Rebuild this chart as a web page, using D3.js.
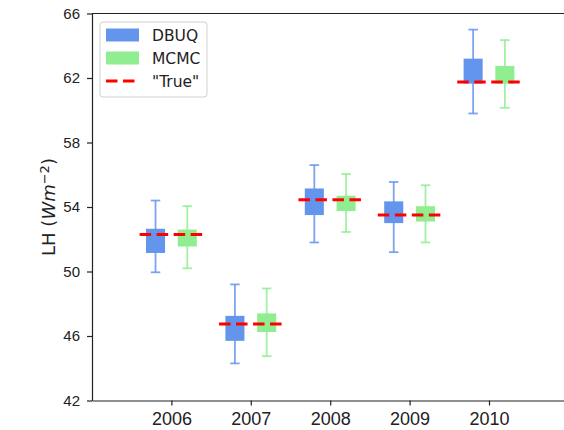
<!DOCTYPE html>
<html>
<head>
<meta charset="utf-8">
<script src="https://cdn.jsdelivr.net/npm/d3@7"></script>
<style>
  body { margin: 0; background: white; }
  svg { display: block; font-family: "DejaVu Sans", sans-serif; overflow: hidden; }
</style>
</head>
<body>
<script>
// Data
const years = [2006, 2007, 2008, 2009, 2010];

const dbuqLow  = [49.95, 44.3, 51.8, 51.2, 59.8];
const dbuqQ1   = [51.15, 45.7, 53.5, 53.0, 61.65];
const dbuqQ3   = [52.65, 47.25, 55.15, 54.35, 63.2];
const dbuqHigh = [54.4, 49.2, 56.6, 55.55, 65.0];

const mcmcLow  = [50.2, 44.75, 52.45, 51.8, 60.15];
const mcmcQ1   = [51.55, 46.25, 53.75, 53.1, 61.65];
const mcmcQ3   = [52.6, 47.4, 54.7, 54.05, 62.75];
const mcmcHigh = [54.05, 48.95, 56.05, 55.35, 64.35];

const truth = [52.3, 46.75, 54.45, 53.5, 61.75];

const yTicks = [42, 46, 50, 54, 58, 62, 66];

// Layout
const W = 564, H = 430;
const margin = { top: 13.5, left: 92, bottom: 29.5 };
const plotBottom = H - margin.bottom;

const svg = d3.select("body")
    .append("svg")
    .attr("width", W)
    .attr("height", H);

// Scales
const x = d3.scaleLinear()
    .domain([2005, 2011])
    .range([margin.left, margin.left + 6 * 79.4]);

const y = d3.scaleLinear()
    .domain([42, 66])
    .range([plotBottom, margin.top]);

const series = [
    { name: "DBUQ", color: "#6495ED", offset: -0.2, low: dbuqLow, q1: dbuqQ1, q3: dbuqQ3, high: dbuqHigh },
    { name: "MCMC", color: "#90EE90", offset: 0.2, low: mcmcLow, q1: mcmcQ1, q3: mcmcQ3, high: mcmcHigh }
];

const boxW = 0.24;
const capW = 0.12;

// Boxes and whiskers
series.forEach(s => {
    const g = svg.append("g");
    years.forEach((yr, i) => {
        const cx = x(yr + s.offset);
        // whisker
        g.append("line")
            .attr("x1", cx).attr("x2", cx)
            .attr("y1", y(s.low[i])).attr("y2", y(s.high[i]))
            .style("stroke", s.color)
            .style("stroke-opacity", 0.85)
            .style("stroke-width", 1.8);
        // caps
        [s.low[i], s.high[i]].forEach(v => {
            g.append("line")
                .attr("x1", x(yr + s.offset - capW / 2))
                .attr("x2", x(yr + s.offset + capW / 2))
                .attr("y1", y(v)).attr("y2", y(v))
                .style("stroke", s.color)
                .style("stroke-opacity", 0.85)
                .style("stroke-width", 1.8);
        });
        // box
        g.append("rect")
            .attr("x", x(yr + s.offset - boxW / 2))
            .attr("width", x(yr + s.offset + boxW / 2) - x(yr + s.offset - boxW / 2))
            .attr("y", y(s.q3[i]))
            .attr("height", y(s.q1[i]) - y(s.q3[i]))
            .style("fill", s.color);
    });
});

// "True" dashed lines
svg.append("g")
    .selectAll("line")
    .data(years)
    .enter()
    .append("line")
    .attr("x1", (d) => x(d - 0.4))
    .attr("x2", (d) => x(d + 0.4))
    .attr("y1", (d, i) => y(truth[i]))
    .attr("y2", (d, i) => y(truth[i]))
    .style("stroke", "#ff0000")
    .style("stroke-width", 3)
    .style("stroke-dasharray", "11.5,5.5");

// Axes
const xAxis = svg.append("g")
    .attr("transform", `translate(0,${plotBottom})`)
    .call(d3.axisBottom(x).tickValues(years).tickFormat(d3.format("d")).tickSize(5).tickPadding(7).tickSizeOuter(0));
xAxis.selectAll("text").style("font-size", "18px").style("fill", "#222");

const yAxis = svg.append("g")
    .attr("transform", `translate(${margin.left},0)`)
    .call(d3.axisLeft(y).tickValues(yTicks).tickSize(5).tickPadding(7).tickSizeOuter(0));
yAxis.selectAll("text").style("font-size", "15px").style("fill", "#222");

[xAxis, yAxis].forEach(a => {
    a.selectAll("line").style("stroke", "#222").style("stroke-width", 1.2);
    a.select(".domain").style("stroke", "#222").style("stroke-width", 1.2);
});

// top spine
svg.append("line")
    .attr("x1", margin.left).attr("x2", W)
    .attr("y1", margin.top).attr("y2", margin.top)
    .style("stroke", "#222")
    .style("stroke-width", 1.2);

// Y label
const yl = svg.append("text")
    .attr("transform", `translate(55,${(margin.top + plotBottom) / 2}) rotate(-90)`)
    .attr("text-anchor", "middle")
    .style("font-size", "18px")
    .style("fill", "#222");
yl.append("tspan").text("LH (");
yl.append("tspan").style("font-style", "italic").text("Wm");
yl.append("tspan").attr("dy", "-0.45em").style("font-size", "13px").text("\u22122");
yl.append("tspan").attr("dy", "0.35em").text(")");

// Legend
const legend = svg.append("g");
legend.append("rect")
    .attr("x", 100).attr("y", 22)
    .attr("width", 107).attr("height", 75)
    .attr("rx", 3)
    .style("fill", "white")
    .style("fill-opacity", 0.8)
    .style("stroke", "#d0d0d0")
    .style("stroke-width", 1);

const legendItems = [
    { label: "DBUQ", color: "#6495ED", type: "patch" },
    { label: "MCMC", color: "#90EE90", type: "patch" },
    { label: "\"True\"", color: "#ff0000", type: "dash" }
];

legendItems.forEach((d, i) => {
    const cy = 35 + i * 23;
    if (d.type === "patch") {
        legend.append("rect")
            .attr("x", 106).attr("y", cy - 6.5)
            .attr("width", 33).attr("height", 13)
            .style("fill", d.color);
    } else {
        legend.append("line")
            .attr("x1", 106).attr("x2", 135)
            .attr("y1", cy).attr("y2", cy)
            .style("stroke", d.color)
            .style("stroke-width", 3)
            .style("stroke-dasharray", "11.5,5.5");
    }
    legend.append("text")
        .attr("x", 152).attr("y", cy + 5.5)
        .style("font-size", "15.5px")
        .style("fill", "#222")
        .text(d.label);
});
</script>
</body>
</html>
